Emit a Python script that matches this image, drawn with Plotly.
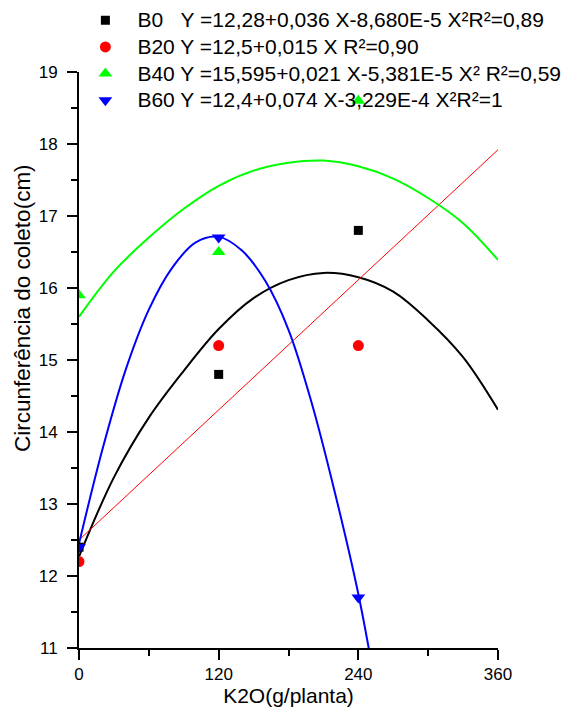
import plotly.graph_objects as go

# Observed data (K2O dose in g/planta)
doses = [0, 120, 240]
b0_vals = [12.4, 14.8, 16.8]
b20_vals = [12.2, 15.2, 15.2]
b40_vals = [15.9, 16.5, 18.6]
b60_vals = [12.4, 16.7, 11.7]

# Fitted curves
fit_x = [0, 30, 60, 90, 120, 150, 180, 210, 240, 270, 300, 330, 360]
b0_fit = [12.27, 13.37, 14.20, 14.85, 15.43, 15.86, 16.11, 16.21, 16.15, 15.95, 15.55, 15.04, 14.31]
b40_fit = [15.60, 16.23, 16.70, 17.10, 17.42, 17.63, 17.74, 17.77, 17.69, 17.52, 17.25, 16.90, 16.39]
b20_fit_x = [0, 360]
b20_fit = [12.5, 17.92]
b60_fit_x = [0, 20, 40, 60, 80, 100, 120, 140, 160, 180, 200, 220, 240, 252]
b60_fit = [12.45, 13.75, 14.86, 15.70, 16.28, 16.63, 16.71, 16.52, 16.10, 15.42, 14.40, 13.15, 11.75, 10.72]

x_title = "K2O(g/planta)"
y_title = "Circunferência do coleto(cm)"

nb = "\u00a0"
legend_texts = [
    "B0" + nb * 3 + "Y =12,28+0,036 X-8,680E-5 X²R²=0,89",
    "B20 Y =12,5+0,015 X R²=0,90",
    "B40 Y =15,595+0,021 X-5,381E-5 X² R²=0,59",
    "B60 Y =12,4+0,074 X-3,229E-4 X²R²=1",
]
names = ['<span style="font-size:21px">' + t + "</span>" for t in legend_texts]

fig = go.Figure()

# fitted lines
fig.add_trace(go.Scatter(x=fit_x, y=b0_fit, mode="lines", line=dict(color="#000000", width=2, shape="spline"), showlegend=False, hoverinfo="skip"))
fig.add_trace(go.Scatter(x=b20_fit_x, y=b20_fit, mode="lines", line=dict(color="#FF0000", width=1), showlegend=False, hoverinfo="skip"))
fig.add_trace(go.Scatter(x=fit_x, y=b40_fit, mode="lines", line=dict(color="#00FF00", width=2, shape="spline"), showlegend=False, hoverinfo="skip"))
fig.add_trace(go.Scatter(x=b60_fit_x, y=b60_fit, mode="lines", line=dict(color="#0000FF", width=2, shape="spline"), showlegend=False, hoverinfo="skip"))

# observed points
fig.add_trace(go.Scatter(x=doses, y=b0_vals, mode="markers", name=names[0],
                         marker=dict(symbol="square", size=9, color="#000000")))
fig.add_trace(go.Scatter(x=doses, y=b20_vals, mode="markers", name=names[1],
                         marker=dict(symbol="circle", size=11, color="#FF0000")))
fig.add_trace(go.Scatter(x=doses, y=b40_vals, mode="markers", name=names[2],
                         marker=dict(symbol="triangle-up", size=12, color="#00FF00")))
fig.add_trace(go.Scatter(x=doses, y=b60_vals, mode="markers", name=names[3],
                         marker=dict(symbol="triangle-down", size=12, color="#0000FF")))

font_family = "Liberation Sans, Arial, sans-serif"

fig.update_layout(
    width=574, height=721,
    margin=dict(l=48, r=76, t=0, b=73, autoexpand=False),
    paper_bgcolor="white", plot_bgcolor="white",
    font=dict(family=font_family, color="#000000", size=17),
    showlegend=True,
    legend=dict(
        x=0.0564, y=0.997, xanchor="left", yanchor="top",
        bgcolor="rgba(0,0,0,0)", borderwidth=0,
        font=dict(size=18.2, family=font_family),
        itemwidth=54, tracegroupgap=0,
    ),
    xaxis=dict(
        domain=[31 / 450, 1.0],
        range=[0, 360], tickvals=[0, 120, 240, 360],
        showgrid=False, zeroline=False,
        showline=True, linecolor="#000000", linewidth=2,
        ticks="outside", ticklen=10, tickwidth=2, tickcolor="#000000",
        minor=dict(tickvals=[60, 180, 300], ticks="outside", ticklen=6, tickwidth=2, tickcolor="#000000"),
        tickfont=dict(size=17),
        title=dict(text=x_title, font=dict(size=21), standoff=0),
    ),
    yaxis=dict(
        domain=[0, 576 / 648],
        range=[11, 19], dtick=1,
        showgrid=False, zeroline=False,
        showline=True, linecolor="#000000", linewidth=2,
        ticks="outside", ticklen=10, tickwidth=2, tickcolor="#000000",
        minor=dict(dtick=0.5, ticks="outside", ticklen=6, tickwidth=2, tickcolor="#000000"),
        tickfont=dict(size=17), ticklabelstandoff=6,
    ),
    annotations=[
        dict(text=y_title, textangle=-90, showarrow=False,
             xref="paper", yref="paper", x=(22 - 48) / 450, y=1 - 308 / 648,
             xanchor="center", yanchor="middle",
             font=dict(size=22.5, family=font_family, color="#000000")),
    ],
)

fig.write_html("out.html", post_script="document.body.style.margin='0';",
               config={"displayModeBar": False})
